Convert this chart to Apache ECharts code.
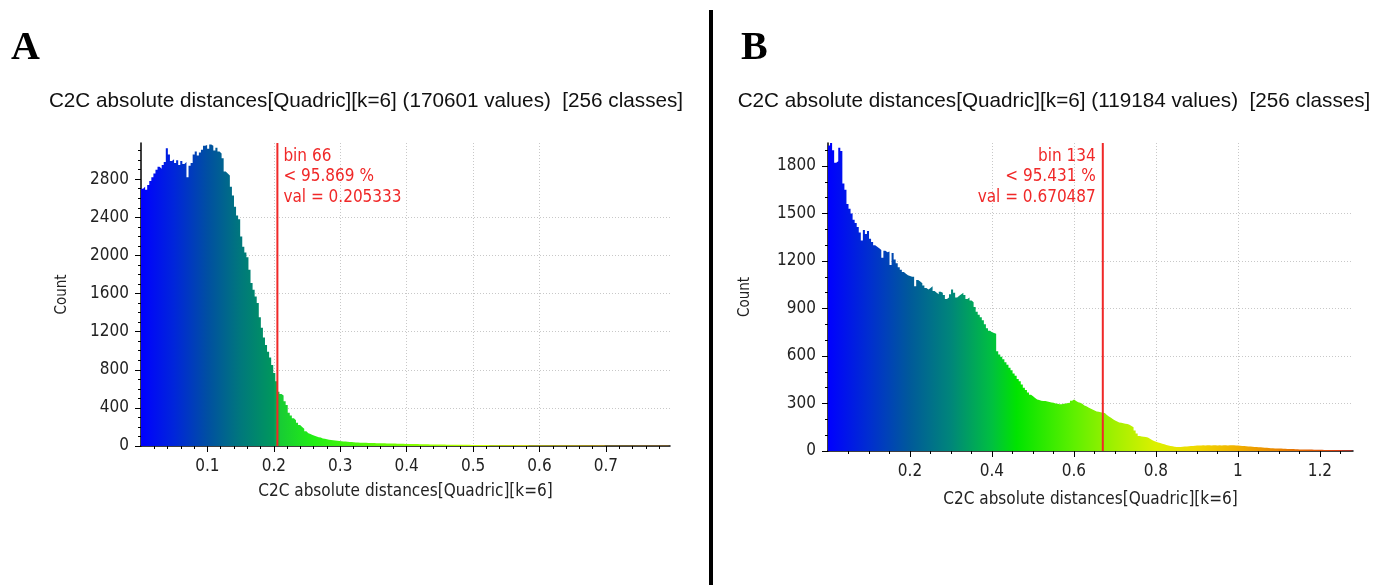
<!DOCTYPE html>
<html>
<head>
<meta charset="utf-8">
<script src="https://cdn.jsdelivr.net/npm/echarts@6/dist/echarts.min.js"></script>
<style>
  html, body { margin: 0; padding: 0; background: #fff; }
  #chart { width: 1392px; height: 585px; }
</style>
</head>
<body>
<div id="chart"></div>
<script>
// histogram counts, 256 classes each
const countsA = [
  2700, 2720, 2690, 2740, 2780, 2820, 2860, 2900, 2930, 2910,
  2950, 2980, 3125, 3060, 2990, 3010, 2970, 3000, 2950, 2990,
  2960, 2980, 2820, 2940, 2970, 3060, 3090, 3050, 3080, 3110,
  3150, 3160, 3120, 3165, 3150, 3100, 3130, 3090, 3070, 3020,
  2880, 2860, 2840, 2720, 2630, 2510, 2420, 2380, 2200, 2090,
  2030, 1980, 1850, 1710, 1640, 1570, 1500, 1350, 1240, 1140,
  1060, 990, 930, 850, 765, 680, 570, 545, 530, 470,
  430, 350, 320, 290, 270, 245, 220, 200, 180, 155,
  135, 125, 115, 108, 100, 92, 88, 80, 75, 70,
  66, 63, 60, 58, 55, 52, 50, 48, 46, 45,
  43, 41, 40, 38, 37, 35, 34, 34, 33, 32,
  32, 31, 31, 30, 30, 29, 29, 28, 27, 27,
  26, 25, 25, 24, 24, 23, 23, 22, 22, 21,
  21, 20, 20, 20, 19, 19, 18, 18, 18, 17,
  17, 16, 16, 16, 15, 15, 15, 14, 14, 14,
  13, 13, 13, 13, 12, 12, 12, 12, 12, 11,
  11, 11, 11, 10, 10, 10, 10, 10, 9, 9,
  9, 9, 9, 8, 8, 8, 8, 8, 8, 7,
  7, 7, 7, 7, 7, 7, 7, 6, 6, 6,
  6, 6, 6, 6, 6, 6, 5, 5, 5, 5,
  5, 5, 5, 5, 5, 5, 5, 5, 4, 4,
  4, 4, 4, 4, 4, 4, 4, 4, 4, 4,
  4, 4, 4, 4, 3, 3, 3, 3, 3, 3,
  3, 3, 3, 3, 3, 3, 3, 3, 3, 3,
  3, 3, 3, 3, 3, 3, 3, 3, 3, 2,
  2, 2, 2, 2, 2, 2
];

const countsB = [
  1930, 1945, 1900, 1820, 1830, 1915, 1895, 1690, 1650, 1560,
  1530, 1500, 1460, 1440, 1415, 1380, 1330, 1395, 1370, 1390,
  1340, 1320, 1300, 1290, 1280, 1270, 1220, 1265, 1255, 1260,
  1175, 1250, 1210, 1185, 1160, 1145, 1130, 1120, 1110, 1105,
  1100, 1100, 1040, 1080, 1070, 1060, 1045, 1030, 1020, 1030,
  1040, 1010, 1000, 990, 1005, 1000, 985, 960, 970, 990,
  1020, 1000, 970, 980, 990, 1000, 985, 960, 970, 950,
  940, 910, 880, 860, 845, 825, 800, 775, 760, 750,
  745, 740, 630, 610, 595, 580, 560, 545, 525, 510,
  490, 475, 455, 440, 420, 400, 385, 370, 355, 345,
  335, 325, 322, 318, 316, 315, 312, 310, 306, 305,
  300, 298, 296, 295, 298, 300, 303, 305, 318, 325,
  315, 308, 305, 298, 288, 282, 275, 268, 262, 255,
  250, 248, 245, 242, 240, 228, 218, 210, 200, 192,
  186, 180, 178, 175, 172, 170, 165, 158, 150, 130,
  110, 95, 92, 90, 88, 85, 78, 70, 63, 58,
  54, 50, 46, 42, 38, 35, 32, 30, 27, 26,
  25, 26, 27, 28, 29, 30, 31, 32, 33, 34,
  35, 34, 36, 35, 37, 36, 34, 36, 37, 35,
  36, 35, 37, 36, 35, 36, 37, 36, 35, 34,
  33, 32, 31, 30, 29, 28, 27, 26, 25, 24,
  23, 22, 21, 20, 19, 18, 17, 16, 16, 15,
  15, 14, 14, 13, 13, 12, 12, 11, 11, 10,
  10, 10, 9, 9, 9, 9, 8, 8, 8, 8,
  8, 7, 7, 7, 7, 6, 6, 6, 6, 6,
  5, 5, 5, 5, 4, 4
];

const xTicksA = [0.1, 0.2, 0.3, 0.4, 0.5, 0.6, 0.7];
const yTicksA = [0, 400, 800, 1200, 1600, 2000, 2400, 2800];
const xTicksB = [0.2, 0.4, 0.6, 0.8, 1, 1.2];
const yTicksB = [0, 300, 600, 900, 1200, 1500, 1800];

const xMaxA = 0.79644;
const xMaxB = 1.28093;
const yMaxA = 3180;
const yMaxB = 1945;

const markerA = { bin: 66, pct: "95.869", val: 0.205333 };
const markerB = { bin: 134, pct: "95.431", val: 0.670487 };

const titleA = "C2C absolute distances[Quadric][k=6] (170601 values)  [256 classes]";
const titleB = "C2C absolute distances[Quadric][k=6] (119184 values)  [256 classes]";
const axisName = "C2C absolute distances[Quadric][k=6]";

// colour ramp stops, [distance, colour]
const rampA = [
  [0, "#0000ff"], [0.05, "#0026da"], [0.1, "#004fa2"], [0.15, "#00787c"],
  [0.2, "#00985c"], [0.21, "#18cc34"], [0.26, "#22ee14"], [0.4, "#80ff00"],
  [0.6, "#ffff00"], [0.79644, "#ffa000"]
];
const rampB = [
  [0, "#0000ff"], [0.1, "#002ed0"], [0.2, "#005a9a"], [0.3, "#00867a"],
  [0.4, "#00c040"], [0.46, "#00e400"], [0.6, "#5ef000"], [0.7, "#a2f000"],
  [0.8, "#dcf000"], [0.9, "#f0d800"], [1.0, "#f0b000"], [1.1, "#e88400"],
  [1.2, "#e05200"], [1.28093, "#d02820"]
];

const FONT = "'DejaVu Sans Condensed', 'DejaVu Sans', sans-serif";
const RED = "#f02828";
const GRID_LINE = { color: "#c8c8c8", type: [1, 2], width: 1 };

function stepPoints(counts, xMax) {
  const w = xMax / counts.length;
  const pts = counts.map((c, i) => [i * w, c]);
  pts.push([xMax, counts[counts.length - 1]]);
  return pts;
}

function gradient(ramp, xMax) {
  return new echarts.graphic.LinearGradient(0, 0, 1, 0,
    ramp.map(([v, c]) => ({ offset: Math.min(1, v / xMax), color: c })));
}

function xAxisFor(gridIndex, xMax, ticks, step, minorSplit, nameGap, margin) {
  return {
    type: "value",
    gridIndex,
    min: 0,
    max: xMax,
    interval: step,
    name: axisName,
    nameLocation: "middle",
    nameGap,
    nameTextStyle: { fontFamily: FONT, fontSize: 17, color: "#222" },
    axisLine: { lineStyle: { color: "#000", width: 1.5 } },
    axisTick: { show: true, length: 6, lineStyle: { color: "#000" }, customValues: ticks },
    minorTick: { show: true, splitNumber: minorSplit, length: 3, lineStyle: { color: "#000" } },
    axisLabel: {
      customValues: ticks, formatter: (v) => String(v),
      fontFamily: FONT, fontSize: 17, color: "#222", margin
    },
    splitLine: { show: true, showMinLine: false, showMaxLine: false, lineStyle: GRID_LINE }
  };
}

function yAxisFor(gridIndex, yMax, ticks, step, minorSplit, nameGap) {
  return {
    type: "value",
    gridIndex,
    min: 0,
    max: yMax,
    interval: step,
    name: "Count",
    nameLocation: "middle",
    nameGap,
    nameTextStyle: { fontFamily: FONT, fontSize: 15, color: "#222" },
    axisLine: { show: true, lineStyle: { color: "#000", width: 1.5 } },
    axisTick: { show: true, length: 6, lineStyle: { color: "#000" }, customValues: ticks },
    minorTick: { show: true, splitNumber: minorSplit, length: 3, lineStyle: { color: "#000" } },
    axisLabel: {
      customValues: ticks, formatter: (v) => String(v),
      fontFamily: FONT, fontSize: 17, color: "#222", margin: 12
    },
    splitLine: { show: true, showMinLine: false, showMaxLine: false, lineStyle: GRID_LINE }
  };
}

function histSeries(idx, counts, xMax, ramp) {
  return {
    type: "line",
    xAxisIndex: idx,
    yAxisIndex: idx,
    step: "end",
    showSymbol: false,
    silent: true,
    lineStyle: { width: 0, opacity: 0 },
    areaStyle: { color: gradient(ramp, xMax), opacity: 1 },
    data: stepPoints(counts, xMax),
    z: 3
  };
}

function markerSeries(idx, yMax, marker, labelLeft) {
  return {
    type: "line",
    xAxisIndex: idx,
    yAxisIndex: idx,
    silent: true,
    showSymbol: false,
    lineStyle: { color: RED, width: 2 },
    data: [[marker.val, 0], [marker.val, yMax]],
    z: 5,
    markPoint: {
      silent: true,
      symbol: "circle",
      symbolSize: 0,
      data: [{
        coord: [marker.val, yMax],
        label: {
          show: true,
          formatter: `bin ${marker.bin}\n< ${marker.pct} %\nval = ${marker.val}`,
          position: labelLeft ? [-7, 3] : [6, 3],
          align: labelLeft ? "right" : "left",
          verticalAlign: "top",
          fontFamily: FONT,
          fontSize: 17,
          lineHeight: 20.5,
          color: RED
        }
      }]
    }
  };
}

const chart = echarts.init(document.getElementById("chart"));

chart.setOption({
  animation: false,
  backgroundColor: "#fff",
  grid: [
    { left: 141, top: 143, width: 529, height: 303 },
    { left: 828, top: 143, width: 525, height: 308 }
  ],
  xAxis: [
    xAxisFor(0, xMaxA, xTicksA, 0.1, 5, 37, 12),
    xAxisFor(1, xMaxB, xTicksB, 0.2, 4, 40, 12)
  ],
  yAxis: [
    yAxisFor(0, yMaxA, yTicksA, 400, 4, 71),
    yAxisFor(1, yMaxB, yTicksB, 300, 3, 75)
  ],
  series: [
    histSeries(0, countsA, xMaxA, rampA),
    histSeries(1, countsB, xMaxB, rampB),
    markerSeries(0, yMaxA, markerA, false),
    markerSeries(1, yMaxB, markerB, true)
  ],
  graphic: [
    { type: "rect", left: 709, top: 10, shape: { width: 4, height: 575 }, style: { fill: "#000" } },
    { type: "text", left: 11, top: 29, style: { text: "A", font: "bold 40px 'Liberation Serif', serif", fill: "#000" } },
    { type: "text", left: 741, top: 29, style: { text: "B", font: "bold 40px 'Liberation Serif', serif", fill: "#000" } },
    { type: "text", x: 366, y: 101, style: { text: titleA, textAlign: "center", textVerticalAlign: "middle", font: "20.7px 'Liberation Sans', Arial, sans-serif", fill: "#111" } },
    { type: "text", x: 1054, y: 101, style: { text: titleB, textAlign: "center", textVerticalAlign: "middle", font: "20.7px 'Liberation Sans', Arial, sans-serif", fill: "#111" } }
  ]
});

window.addEventListener("resize", () => chart.resize());
</script>
</body>
</html>
